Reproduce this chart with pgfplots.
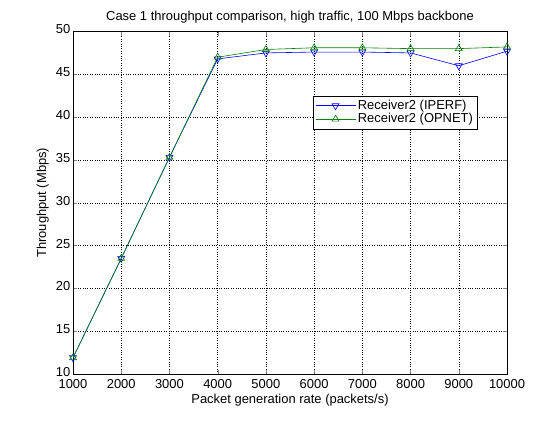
\documentclass[border=0pt]{standalone}
\usepackage{pgfplots}
\pgfplotsset{compat=1.18}
\usepackage{fontspec}
\setmainfont{Liberation Sans}
\begin{document}
\fontsize{13pt}{15pt}\selectfont
\begin{tikzpicture}[x=1bp,y=1bp]
\path[use as bounding box] (0,0) rectangle (560,420);
\begin{axis}[
  at={(73bp,46bp)}, anchor=south west,
  scale only axis, width=434bp, height=342.5bp,
  xmin=1000, xmax=10000, ymin=10, ymax=50,
  xtick={1000,2000,...,10000},
  ytick={10,15,...,50},
  scaled ticks=false,
  /pgf/number format/assume math mode=true,
  /pgf/number format/set thousands separator={},
  tick label style={font=\fontsize{13pt}{15pt}\selectfont, inner sep=0.5bp},
  label style={font=\fontsize{13pt}{15pt}\selectfont},
  title style={font=\fontsize{13pt}{15pt}\selectfont, yshift=-2bp},
  xticklabel style={yshift=-5bp},
  yticklabel style={xshift=-2bp, yshift=2bp},
  tick align=inside,
  major tick length=4bp,
  grid=major,
  major grid style={black, dotted, line width=0.5pt},
  axis line style={black, line width=0.5pt},
  title={Case 1 throughput comparison, high traffic, 100 Mbps backbone},
  xlabel={Packet generation rate (packets/s)},
  ylabel={Throughput (Mbps)},
  xlabel style={yshift=0bp},
  ylabel style={yshift=2bp},
  legend style={at={(0.553,0.812)}, anchor=north west, draw=black, line width=0.5pt,
    font=\fontsize{13pt}{15pt}\selectfont, inner sep=2pt, row sep=-2pt},
  legend cell align=left,
  legend image code/.code={\draw[mark repeat=2,mark phase=2] plot coordinates {(0bp,0bp)(20bp,0bp)(40bp,0bp)};},
]
\addplot[color={rgb,1:red,0;green,0;blue,1}, line width=0.6pt, mark=triangle, mark options={rotate=180, solid, fill=none}, mark size=4pt]
coordinates {(1000,11.9)(2000,23.5)(3000,35.3)(4000,46.8)(5000,47.5)(6000,47.6)(7000,47.6)(8000,47.5)(9000,46.0)(10000,47.7)};
\addlegendentry{Receiver2 (IPERF)}
\addplot[color={rgb,1:red,0;green,0.5;blue,0}, line width=0.6pt, mark=triangle, mark options={solid, fill=none}, mark size=4pt]
coordinates {(1000,11.9)(2000,23.5)(3000,35.3)(4000,47.0)(5000,47.9)(6000,48.1)(7000,48.1)(8000,48.0)(9000,48.0)(10000,48.2)};
\addlegendentry{Receiver2 (OPNET)}
\end{axis}
\end{tikzpicture}
\end{document}
